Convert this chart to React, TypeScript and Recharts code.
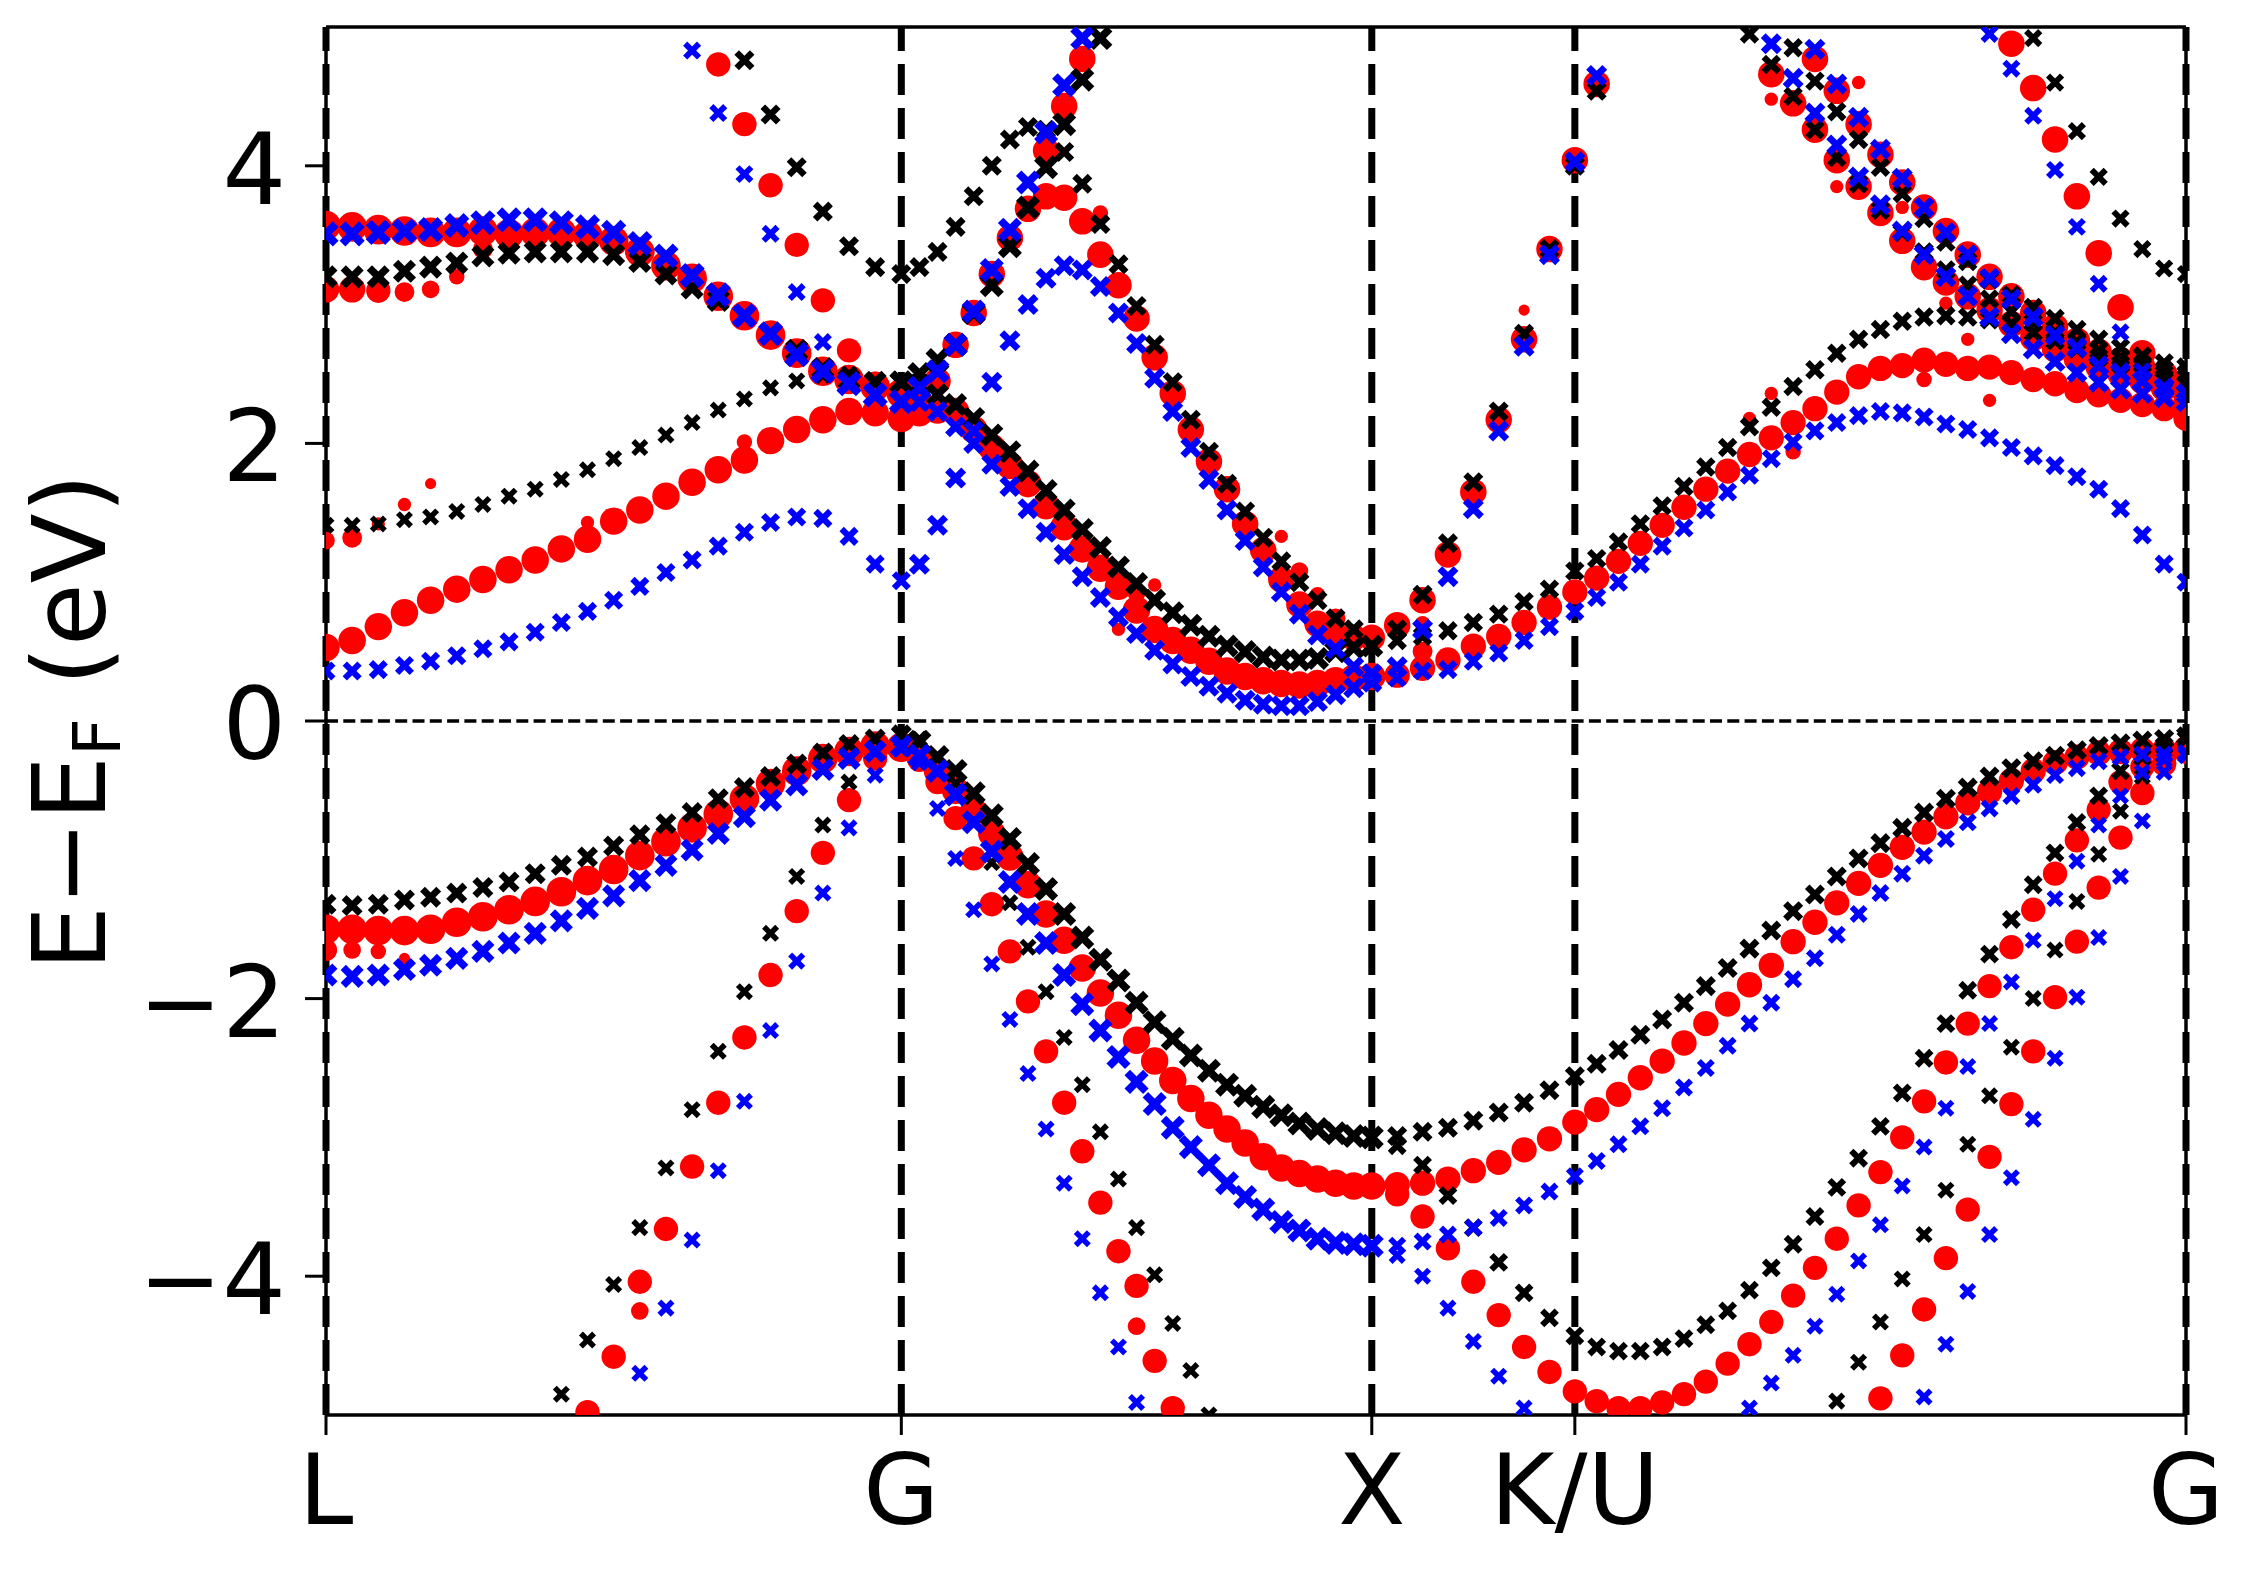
import { ScatterChart, Scatter, XAxis, YAxis, ReferenceLine } from "recharts";

// k-path: high-symmetry points, labels and number of k-steps per segment
const kTicks = [0, 0.867, 1.576, 1.882, 2.803];
const kLabels = ["L", "G", "X", "K/U", "G"];
const kSteps = [22, 26, 8, 28];
const eTicks = [-4, -2, 0, 2, 4];

// ---- black (x markers) ----
const blackHeavyLG = [-1.32, -1.33, -1.32, -1.29, -1.27, -1.24, -1.2, -1.16, -1.1, -1.04, -0.98, -0.9, -0.82, -0.74, -0.66, -0.56, -0.48, -0.4, -0.31, -0.23, -0.17, -0.13, -0.1];
const blackHeavyGX = [-0.15, -0.26, -0.36, -0.52, -0.68, -0.85, -1.03, -1.21, -1.39, -1.56, -1.72, -1.87, -2.03, -2.17, -2.29, -2.41, -2.52, -2.62, -2.7, -2.78, -2.84, -2.9, -2.94, -2.97, -2.99, -3.0];
const blackHeavyXG = [-2.99, -2.96, -2.93, -2.88, -2.82, -2.75, -2.66, -2.56, -2.47, -2.37, -2.26, -2.15, -2.03, -1.91, -1.78, -1.64, -1.51, -1.37, -1.25, -1.12, -0.99, -0.88, -0.77, -0.66, -0.56, -0.48, -0.4, -0.34, -0.29, -0.25, -0.21, -0.18, -0.16, -0.14, -0.13, -0.11];
const blackLight = [-4.85, -4.46, -4.06, -3.65, -3.22, -2.8, -2.38, -1.95, -1.53, -1.12, -0.75, -0.44, -0.22, -0.1, -0.13, -0.25, -0.45, -0.72, -1.02, -1.31, -1.63, -1.95, -2.28, -2.62, -2.96, -3.3, -3.65, -3.99, -4.34, -4.68, -5.0];
const blackLowXG = [-3.0, -3.06, -3.2, -3.42, -3.65, -3.9, -4.12, -4.3, -4.43, -4.51, -4.54, -4.54, -4.51, -4.45, -4.35, -4.25, -4.1, -3.94, -3.77, -3.57, -3.36, -3.15, -2.92, -2.68, -2.43, -2.18, -1.94, -1.68, -1.43, -1.18, -0.95, -0.73, -0.54, -0.36, -0.26, -0.18, -0.13];
const blackFanKG = [-4.9, -4.62, -4.33, -4.02, -3.7, -3.38, -3.05, -2.7, -2.35, -2.0, -1.65, -1.3, -0.96, -0.65, -0.4, -0.25, -0.13];
const blackCondLG = [1.41, 1.41, 1.42, 1.45, 1.47, 1.51, 1.56, 1.62, 1.67, 1.74, 1.81, 1.89, 1.97, 2.06, 2.15, 2.24, 2.32, 2.4, 2.45, 2.49, 2.5, 2.45, 2.44];
const blackCondGX = [2.42, 2.35, 2.28, 2.18, 2.06, 1.94, 1.8, 1.66, 1.52, 1.38, 1.25, 1.11, 0.99, 0.87, 0.78, 0.69, 0.61, 0.54, 0.5, 0.46, 0.44, 0.44, 0.45, 0.5, 0.53, 0.54];
const blackCondXG = [0.58, 0.61, 0.65, 0.71, 0.77, 0.86, 0.95, 1.08, 1.17, 1.29, 1.42, 1.55, 1.69, 1.83, 1.97, 2.12, 2.26, 2.41, 2.53, 2.65, 2.75, 2.82, 2.88, 2.91, 2.92, 2.91, 2.89, 2.86, 2.8, 2.74, 2.68, 2.62, 2.57, 2.52, 2.47, 2.43];
const blackUpperLG = [3.2, 3.2, 3.2, 3.24, 3.27, 3.3, 3.35, 3.37, 3.38, 3.38, 3.38, 3.36, 3.31, 3.22, 3.12, 3.03, 2.92, 2.79, 2.67, 2.54, 2.46, 2.44, 2.44];
const blackArc = [4.76, 4.37, 3.99, 3.67, 3.42, 3.27, 3.22, 3.27, 3.38, 3.56, 3.78, 4.0, 4.19, 4.28, 4.26, 4.1, 3.87, 3.58, 3.29, 2.99, 2.71, 2.44, 2.17, 1.94, 1.71, 1.51, 1.32, 1.15, 1.0, 0.87, 0.74, 0.66, 0.54, 0.66, 0.91, 1.28, 1.72, 2.23, 2.79, 3.4, 4.0, 4.54];
const blackSteepGX = [2.44, 2.5, 2.6, 2.71, 2.94, 3.14, 3.42, 3.7, 3.99, 4.3, 4.62, 4.92];
const blackUpperKG1 = [4.95, 4.73, 4.5, 4.26, 4.06, 3.87, 3.68, 3.52, 3.38, 3.25, 3.14, 3.04, 2.95, 2.87, 2.8, 2.73, 2.67, 2.62, 2.57, 2.53, 2.5];
const blackUpperKG2 = [4.85, 4.61, 4.39, 4.19, 3.99, 3.8, 3.62, 3.45, 3.31, 3.18, 3.07, 2.98, 2.9, 2.82, 2.75, 2.69, 2.63, 2.58, 2.55];
const blackTopKG = [4.92, 4.6, 4.25, 3.92, 3.62, 3.4, 3.26, 3.22];

// ---- red (circles, size = weight) ----
const redHeavyLG = [-1.5, -1.5, -1.51, -1.51, -1.5, -1.45, -1.41, -1.36, -1.3, -1.23, -1.15, -1.07, -0.97, -0.87, -0.77, -0.67, -0.56, -0.45, -0.36, -0.27, -0.22, -0.18, -0.19];
const redHeavyGX = [-0.25, -0.36, -0.5, -0.65, -0.81, -0.98, -1.18, -1.39, -1.58, -1.78, -1.96, -2.12, -2.3, -2.45, -2.59, -2.72, -2.84, -2.94, -3.04, -3.14, -3.22, -3.26, -3.3, -3.33, -3.35, -3.35];
const redHeavyXG = [-3.34, -3.33, -3.3, -3.24, -3.18, -3.09, -3.01, -2.89, -2.8, -2.69, -2.57, -2.45, -2.32, -2.18, -2.04, -1.9, -1.76, -1.59, -1.45, -1.31, -1.17, -1.04, -0.91, -0.8, -0.69, -0.59, -0.51, -0.43, -0.36, -0.3, -0.26, -0.23, -0.22, -0.21, -0.21, -0.2];
const redLight = [-4.98, -4.58, -4.04, -3.66, -3.21, -2.75, -2.28, -1.83, -1.37, -0.95, -0.57, -0.27, -0.19, -0.28, -0.44, -0.7, -0.99, -1.32, -1.66, -2.02, -2.38, -2.75, -3.1, -3.47, -3.82, -4.07, -4.61, -4.95];
const redLowXG = [-3.35, -3.41, -3.57, -3.8, -4.04, -4.28, -4.51, -4.69, -4.83, -4.9, -4.95, -4.95, -4.91, -4.85, -4.76, -4.63, -4.49, -4.33, -4.14, -3.94, -3.73, -3.49, -3.25, -3.0, -2.74, -2.46, -2.18, -1.91, -1.63, -1.36, -1.1, -0.86, -0.64, -0.44, -0.33, -0.26, -0.22];
const redFanKG = [-4.88, -4.57, -4.24, -3.87, -3.52, -3.14, -2.76, -2.38, -1.99, -1.59, -1.2, -0.84, -0.52, -0.31, -0.22];
const redCondLG = [0.53, 0.58, 0.68, 0.78, 0.87, 0.95, 1.02, 1.09, 1.16, 1.24, 1.31, 1.44, 1.52, 1.62, 1.72, 1.81, 1.88, 2.02, 2.1, 2.17, 2.23, 2.22, 2.18];
const redCondGX = [2.22, 2.24, 2.23, 2.1, 1.97, 1.84, 1.71, 1.55, 1.4, 1.24, 1.1, 0.97, 0.8, 0.66, 0.58, 0.51, 0.43, 0.36, 0.32, 0.29, 0.27, 0.26, 0.27, 0.29, 0.31, 0.32];
const redCondXG = [0.33, 0.38, 0.44, 0.54, 0.61, 0.71, 0.82, 0.93, 1.03, 1.15, 1.28, 1.41, 1.54, 1.67, 1.8, 1.92, 2.04, 2.15, 2.25, 2.37, 2.48, 2.54, 2.56, 2.6, 2.57, 2.54, 2.55, 2.51, 2.46, 2.43, 2.38, 2.35, 2.31, 2.28, 2.25, 2.18];
const redUpperLG = [3.57, 3.56, 3.54, 3.53, 3.52, 3.52, 3.53, 3.51, 3.52, 3.52, 3.5, 3.46, 3.38, 3.28, 3.19, 3.06, 2.92, 2.78, 2.65, 2.52, 2.46, 2.41, 2.36];
const redSteepLG = [4.73, 4.3, 3.86, 3.43, 3.03, 2.67, 2.43];
const redSteepGX = [2.3, 2.45, 2.71, 2.94, 3.22, 3.48, 3.69, 4.11, 4.43, 4.77];
const redArc = [3.78, 3.77, 3.6, 3.36, 3.14, 2.9, 2.62, 2.36, 2.1, 1.87, 1.67, 1.42, 1.23, 1.02, 0.84, 0.7, 0.62, 0.6, 0.6, 0.69, 0.87, 1.2, 1.65, 2.17, 2.75, 3.4, 4.04, 4.59];
const redUpperKG1 = [4.66, 4.45, 4.26, 4.04, 3.85, 3.66, 3.46, 3.27, 3.16, 3.06, 2.96, 2.86, 2.76, 2.68, 2.61, 2.55, 2.5, 2.45, 2.4, 2.36];
const redUpperKG2 = [4.77, 4.54, 4.3, 4.08, 3.88, 3.7, 3.53, 3.36, 3.2, 3.06, 2.94, 2.84, 2.74, 2.66, 2.6, 2.55, 2.5, 2.45];
const redTopKG = [4.88, 4.56, 4.19, 3.78, 3.37, 2.98, 2.65, 2.4, 2.28];
// isolated weak points: [k index, energy, weight]
const redWeak: [number, number, number][] = [
  [0, -1.65, 0.55], [1, -1.65, 0.36], [2, -1.66, 0.27], [3, -1.71, 0.09],
  [0, 3.11, 0.73], [1, 3.11, 0.73], [2, 3.1, 0.64], [3, 3.09, 0.45], [4, 3.11, 0.36], [5, 3.2, 0.27], [6, 3.4, 0.45],
  [0, 1.3, 0.36], [1, 1.32, 0.45], [2, 1.42, 0.18], [3, 1.56, 0.18], [4, 1.71, 0.09], [10, 1.43, 0.18], [16, 2.01, 0.27],
  [12, -4.25, 0.36], [35, -4.36, 0.36], [33, 3.66, 0.27], [34, 0.66, 0.18], [35, 0.92, 0.36], [36, 0.98, 0.18],
  [43, 1.33, 0.18], [44, 1.08, 0.36], [45, 0.91, 0.27], [46, 0.74, 0.45], [50, 0.7, 0.27], [50, 0.5, 0.45], [54, 2.96, 0.09],
  [64, 2.18, 0.18], [65, 2.36, 0.18], [66, 1.94, 0.27], [72, 2.46, 0.27], [75, 2.31, 0.18], [65, 4.48, 0.18],
  [69, 4.6, 0.18], [68, 3.85, 0.18], [71, 3.7, 0.18], [73, 3.01, 0.18], [74, 2.75, 0.18],
];

// ---- blue (x markers) ----
const blueHeavyLG = [-1.83, -1.84, -1.83, -1.79, -1.76, -1.71, -1.66, -1.6, -1.53, -1.44, -1.35, -1.26, -1.15, -1.04, -0.93, -0.81, -0.69, -0.57, -0.46, -0.35, -0.27, -0.22, -0.18];
const blueHeavyGX = [-0.25, -0.36, -0.53, -0.73, -0.94, -1.16, -1.39, -1.6, -1.83, -2.04, -2.23, -2.42, -2.6, -2.76, -2.93, -3.07, -3.2, -3.33, -3.43, -3.52, -3.61, -3.67, -3.73, -3.76, -3.77, -3.78];
const blueHeavyXG = [-3.78, -3.75, -3.7, -3.65, -3.58, -3.49, -3.39, -3.28, -3.17, -3.05, -2.92, -2.79, -2.64, -2.5, -2.34, -2.18, -2.03, -1.86, -1.71, -1.54, -1.39, -1.24, -1.1, -0.97, -0.85, -0.73, -0.63, -0.54, -0.46, -0.39, -0.34, -0.29, -0.26, -0.24, -0.24, -0.23];
const blueLight = [-4.7, -4.23, -3.74, -3.24, -2.74, -2.23, -1.73, -1.24, -0.77, -0.39, -0.2, -0.3, -0.63, -0.99, -1.36, -1.75, -2.15, -2.54, -2.94, -3.33, -3.73, -4.12, -4.51, -4.91];
const blueLowXG = [-3.78, -3.85, -4.0, -4.23, -4.47, -4.72, -4.95, null, null, null, null, null, null, null, null, null, -4.95, -4.77, -4.57, -4.36, -4.13, -3.89, -3.63, -3.35, -3.07, -2.79, -2.49, -2.18, -1.88, -1.58, -1.28, -1.01, -0.75, -0.54, -0.37, -0.28, -0.24];
const blueFanKG = [-4.87, -4.49, -4.11, -3.7, -3.29, -2.87, -2.43, -1.99, -1.56, -1.12, -0.72, -0.37, -0.25];
const blueCondLG = [0.36, 0.36, 0.37, 0.4, 0.43, 0.47, 0.52, 0.57, 0.64, 0.71, 0.79, 0.87, 0.97, 1.07, 1.16, 1.26, 1.36, 1.43, 1.47, 1.46, 1.33, 1.13, 1.01];
const blueArc = [1.13, 1.41, 1.75, 2.09, 2.44, 2.74, 3.0, 3.19, 3.28, 3.25, 3.13, 2.94, 2.72, 2.47, 2.23, 1.97, 1.74, 1.52, 1.3, 1.11, 0.93, 0.77, 0.62, 0.52, 0.39, 0.34, 0.39, 0.66, 1.04, 1.53, 2.09, 2.7, 3.36, 4.03, 4.65];
const blueUpperLG = [3.51, 3.51, 3.52, 3.53, 3.54, 3.57, 3.59, 3.61, 3.61, 3.59, 3.56, 3.52, 3.44, 3.35, 3.21, 3.07, 2.92, 2.79, 2.64, 2.52, 2.43, 2.35, 2.3];
const blueCondGX = [2.3, 2.23, 2.12, 2.0, 1.85, 1.69, 1.53, 1.36, 1.2, 1.04, 0.89, 0.75, 0.63, 0.51, 0.41, 0.32, 0.25, 0.2, 0.15, 0.12, 0.11, 0.11, 0.14, 0.19, 0.24, 0.28];
const blueCondXG = [0.31, 0.36, 0.37, 0.43, 0.49, 0.58, 0.68, 0.79, 0.89, 1.0, 1.13, 1.26, 1.39, 1.52, 1.65, 1.77, 1.89, 2.01, 2.09, 2.15, 2.2, 2.23, 2.22, 2.19, 2.14, 2.1, 2.04, 1.97, 1.91, 1.84, 1.76, 1.67, 1.53, 1.34, 1.13, 1.0];
const blueSteepLG = [4.83, 4.38, 3.94, 3.51, 3.09, 2.73, 2.44];
const blueSteepGX = [2.4, 2.52, 2.71, 2.95, 3.25, 3.54, 3.88, 4.24, 4.58, 4.92];
const blueUpperKG1 = [4.88, 4.63, 4.38, 4.15, 3.92, 3.72, 3.53, 3.36, 3.2, 3.06, 2.91, 2.79, 2.68, 2.59, 2.51, 2.44, 2.39, 2.36, 2.33, 2.3];
const blueUpperKG2 = [4.84, 4.59, 4.35, 4.12, 3.91, 3.7, 3.52, 3.36, 3.19, 3.04, 2.91, 2.78, 2.69, 2.56, 2.51, 2.45, 2.4, 2.36];
const blueTopKG = [4.95, 4.7, 4.36, 3.97, 3.56, 3.15, 2.8, 2.52, 2.38, 2.3];

// [first k index, energies, weight]
type Band = [number, (number | null)[], number];

const blackBands: Band[] = [
  [0, blackHeavyLG, 0.58], [23, blackHeavyGX, 0.83], [49, blackHeavyXG, 0.5],
  [9, blackLight, 0.25], [48, blackLowXG, 0.4], [68, blackFanKG, 0.25],
  [0, blackCondLG, 0.25], [23, blackCondGX, 0.75], [49, blackCondXG, 0.45],
  [0, blackUpperLG, 0.75], [16, blackArc, 0.5], [22, blackSteepGX, 0.83],
  [64, blackUpperKG1, 0.45], [66, blackUpperKG2, 0.45], [77, blackTopKG, 0.35],
];
const redBands: Band[] = [
  [0, redHeavyLG, 0.86], [23, redHeavyGX, 0.77], [49, redHeavyXG, 0.68],
  [10, redLight, 0.64], [48, redLowXG, 0.64], [70, redFanKG, 0.64],
  [0, redCondLG, 0.77], [23, redCondGX, 0.77], [49, redCondXG, 0.68],
  [0, redUpperLG, 0.86], [15, redSteepLG, 0.64], [23, redSteepGX, 0.73], [30, redArc, 0.73],
  [65, redUpperKG1, 0.73], [67, redUpperKG2, 0.73], [76, redTopKG, 0.73],
];
const blueBands: Band[] = [
  [0, blueHeavyLG, 0.75], [23, blueHeavyGX, 0.83], [49, blueHeavyXG, 0.33],
  [12, blueLight, 0.25], [48, blueLowXG, 0.25], [72, blueFanKG, 0.25],
  [0, blueCondLG, 0.42], [23, blueArc, 0.58], [0, blueUpperLG, 0.92],
  [23, blueCondGX, 0.58], [49, blueCondXG, 0.42], [14, blueSteepLG, 0.33],
  [23, blueSteepGX, 0.83], [65, blueUpperKG1, 0.58], [67, blueUpperKG2, 0.58], [75, blueTopKG, 0.33],
];

const kGrid: number[] = [0];
kSteps.forEach((n, s) => {
  for (let j = 1; j <= n; j++) kGrid.push(kTicks[s] + ((kTicks[s + 1] - kTicks[s]) * j) / n);
});

const toPoints = (bands: Band[], extra: [number, number, number][] = []) => {
  const pts: { k: number; e: number; w: number }[] = [];
  bands.forEach(([from, es, w]) =>
    es.forEach((e, j) => {
      if (e !== null && Math.abs(e) <= 5.15) pts.push({ k: kGrid[from + j], e, w });
    })
  );
  extra.forEach(([i, e, w]) => pts.push({ k: kGrid[i], e, w }));
  return pts;
};

const cross = (color: string) => (p: any) => {
  if (p.cx == null || p.cy == null) return <g />;
  const s = 15 + 13 * p.payload.w;
  const h = s * 0.36;
  return (
    <g stroke={color} strokeWidth={s * 0.3}>
      <line x1={p.cx - h} y1={p.cy - h} x2={p.cx + h} y2={p.cy + h} />
      <line x1={p.cx - h} y1={p.cy + h} x2={p.cx + h} y2={p.cy - h} />
    </g>
  );
};

const dot = (p: any) => {
  if (p.cx == null || p.cy == null) return <g />;
  return <circle cx={p.cx} cy={p.cy} r={(9 + 24 * p.payload.w) / 2} fill="#ff0000" />;
};

const font = "DejaVu Sans";

const XTick = (p: any) => (
  <text x={p.x} y={1524} textAnchor="middle" fontSize={98} fontFamily={font} fill="#000">
    {kLabels[kTicks.indexOf(p.payload.value)]}
  </text>
);

const YTick = (p: any) => (
  <text x={286} y={p.y + 38} textAnchor="end" fontSize={100} fontFamily={font} fill="#000">
    {p.payload.value < 0 ? `\u2212${-p.payload.value}` : p.payload.value}
  </text>
);

const YLabel = () => (
  <text x={105} y={722} transform="rotate(-90, 105, 722)" textAnchor="middle" fontSize={102} fontFamily={font} fill="#000">
    E{"\u2212"}E<tspan fontSize={66} dy={15}>F</tspan>
    <tspan dy={-15}> (eV)</tspan>
  </text>
);

export default function App() {
  return (
    <div style={{ position: "absolute", left: 0, top: 0, width: 2255, height: 1578, background: "#fff" }}>
      <ScatterChart width={2255} height={1578} margin={{ top: 27, right: 69, bottom: 0, left: 0 }}>
        <XAxis
          type="number"
          dataKey="k"
          domain={[0, 2.803]}
          ticks={kTicks}
          interval={0}
          allowDataOverflow
          height={163}
          tickSize={20}
          tick={XTick}
          axisLine={{ stroke: "#000", strokeWidth: 3.5 }}
          tickLine={{ stroke: "#000", strokeWidth: 3 }}
        />
        <YAxis
          type="number"
          dataKey="e"
          domain={[-5, 5]}
          ticks={eTicks}
          interval={0}
          allowDataOverflow
          width={326}
          tickSize={21}
          tick={YTick}
          axisLine={{ stroke: "#000", strokeWidth: 3.5 }}
          tickLine={{ stroke: "#000", strokeWidth: 3 }}
          label={{ content: YLabel }}
        />
        <Scatter data={toPoints(redBands, redWeak)} shape={dot} isAnimationActive={false} />
        <Scatter data={toPoints(blackBands)} shape={cross("#000000")} isAnimationActive={false} />
        <Scatter data={toPoints(blueBands)} shape={cross("#0000ff")} isAnimationActive={false} />
        {kTicks.map((k, i) => (
          <ReferenceLine key={`k${i}`} x={k} stroke="#000" strokeWidth={7} strokeDasharray="31 13" />
        ))}
        <ReferenceLine y={0} stroke="#000" strokeWidth={3.3} strokeDasharray="12 5.3" />
        <ReferenceLine y={5} stroke="#000" strokeWidth={3.5} />
        <ReferenceLine x={2.803} stroke="#000" strokeWidth={3.5} />
      </ScatterChart>
    </div>
  );
}
